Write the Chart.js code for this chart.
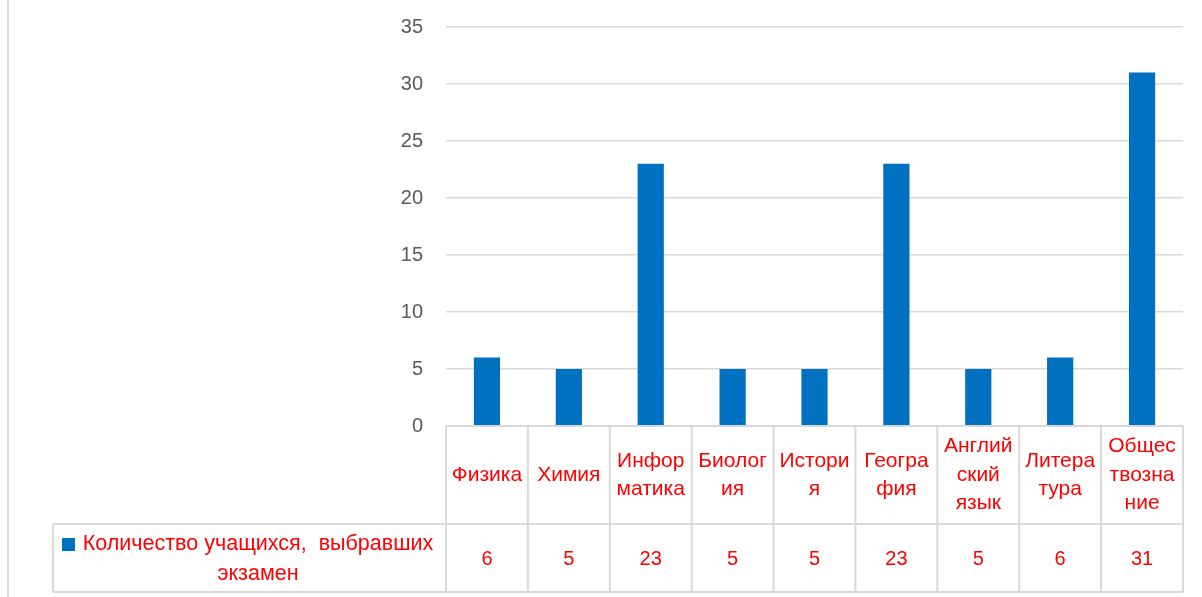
<!DOCTYPE html>
<html lang="ru">
<head>
  <meta charset="UTF-8" />
  <title>Экзамены по выбору</title>
  <style>
    body { margin: 0; background: #fff; }
    #wrap { width: 1202px; height: 597px; position: relative; }
  </style>
</head>
<body>
  <div id="wrap"><canvas id="chart"></canvas></div>

  <script src="https://cdn.jsdelivr.net/npm/chart.js"></script>
  <script>
    // subjects, already split into lines the way the table wraps them
    const categories = [
      ["Физика"], ["Химия"], ["Инфор", "матика"], ["Биолог", "ия"], ["Истори", "я"],
      ["Геогра", "фия"], ["Англий", "ский", "язык"], ["Литера", "тура"], ["Общес", "твозна", "ние"]
    ];
    const values = [6, 5, 23, 5, 5, 23, 5, 6, 31];
    const seriesName = ["Количество учащихся,  выбравших", "экзамен"];
    const yMax = 35;
    const yStep = 5;

    const RED = "#ff0000";
    const BLUE = "#0070c0";
    const LINE = "#d9d9d9";
    const FONT = "Liberation Sans, Arial, sans-serif";

    // data table under the plot, like excel's "data table with legend keys"
    const dataTable = {
      id: "dataTable",
      afterDraw(chart) {
        const ctx = chart.ctx;
        const x = chart.scales.x;
        const area = chart.chartArea;
        const top = area.bottom;
        const mid = top + 98;
        const bot = top + 166;
        const legendLeft = 53;
        const half = (x.getPixelForValue(1) - x.getPixelForValue(0)) / 2;

        ctx.save();
        ctx.strokeStyle = LINE;
        ctx.lineWidth = 2;
        ctx.beginPath();
        ctx.moveTo(area.left, top); ctx.lineTo(area.right, top);
        ctx.moveTo(legendLeft, mid); ctx.lineTo(area.right, mid);
        ctx.moveTo(legendLeft, bot); ctx.lineTo(area.right, bot);
        ctx.moveTo(legendLeft, mid); ctx.lineTo(legendLeft, bot);
        for (let i = 0; i <= categories.length; i++) {
          const px = x.getPixelForValue(0) - half + i * half * 2;
          ctx.moveTo(px, top); ctx.lineTo(px, bot);
        }
        ctx.stroke();

        ctx.fillStyle = RED;
        ctx.textAlign = "center";
        ctx.textBaseline = "middle";
        ctx.font = "21px " + FONT;
        const lh = 28.5;
        categories.forEach((lines, i) => {
          const cx = x.getPixelForValue(i);
          const cy = (top + mid) / 2 - (lines.length - 1) * lh / 2;
          lines.forEach((t, j) => ctx.fillText(t, cx, cy + j * lh));
        });

        ctx.font = "20px " + FONT;
        values.forEach((v, i) => {
          ctx.fillText(String(v), x.getPixelForValue(i), (mid + bot) / 2 + 1);
        });

        // legend key + series name
        ctx.fillStyle = BLUE;
        ctx.fillRect(62, 538, 13, 13);
        ctx.fillStyle = RED;
        ctx.font = "21.5px " + FONT;
        ctx.fillText(seriesName[0], 258, 544);
        ctx.fillText(seriesName[1], 258, 574);

        // chart border on the left
        ctx.strokeStyle = LINE;
        ctx.beginPath();
        ctx.moveTo(8, 0); ctx.lineTo(8, 597);
        ctx.stroke();
        ctx.restore();
      }
    };

    new Chart(document.getElementById("chart"), {
      type: "bar",
      data: {
        labels: categories.map(c => c.join("")),
        datasets: [{
          label: seriesName.join(" "),
          data: values,
          backgroundColor: BLUE,
          categoryPercentage: 1,
          barPercentage: 0.32
        }]
      },
      options: {
        responsive: true,
        maintainAspectRatio: false,
        animation: false,
        layout: { padding: { top: 27, right: 19, bottom: 171, left: 0 } },
        plugins: { legend: { display: false }, tooltip: { enabled: false } },
        scales: {
          x: { display: false },
          y: {
            min: 0,
            max: yMax,
            afterFit(axis) {
              axis.width = 446;
              // tick padding would otherwise push the plot top down
              axis.paddingTop = 0;
              axis.paddingBottom = 0;
            },
            border: { display: false },
            grid: { color: LINE, lineWidth: 1.5, drawTicks: false },
            ticks: {
              stepSize: yStep,
              padding: 23,
              color: "#595959",
              font: { family: FONT, size: 20 }
            }
          }
        }
      },
      plugins: [dataTable]
    });
  </script>
</body>
</html>
